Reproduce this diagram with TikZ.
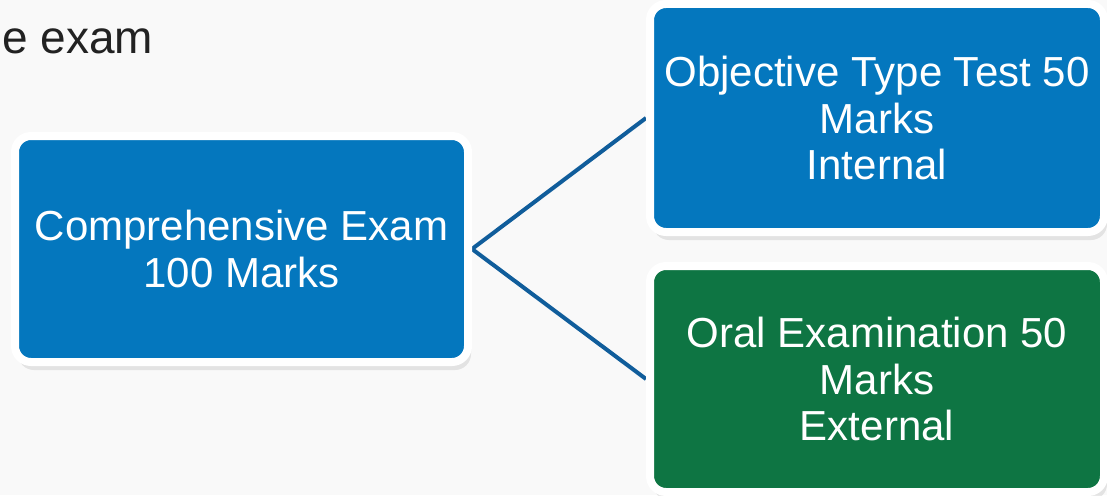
\documentclass[tikz,border=0pt]{standalone}
\usepackage{fontspec}
\setmainfont{Liberation Sans}
\usetikzlibrary{shadows,backgrounds}
\definecolor{bgc}{HTML}{F9F9F9}
\definecolor{boxblue}{HTML}{0477BE}
\definecolor{boxgreen}{HTML}{0E7543}
\definecolor{linec}{HTML}{105D9B}
\definecolor{txtc}{HTML}{222222}
\tikzset{
  card/.style={draw=white, line width=8pt, rounded corners=16pt, text=white,
    align=center, inner sep=0pt, font=\fontsize{42}{46.5}\selectfont,
    drop shadow={opacity=0.18, shadow xshift=3pt, shadow yshift=-8pt}},
  conn/.style={draw=linec, line width=4pt}
}
\begin{document}
\begin{tikzpicture}[x=1pt,y=-1pt]
\useasboundingbox (0,0) rectangle (1107,495);
\node[card, fill=boxblue, minimum width=453pt, minimum height=226pt] (comp) at (241.5,249) {Comprehensive Exam\\100 Marks};
\node[card, fill=boxblue, minimum width=454pt, minimum height=228pt] (obj) at (877,118) {Objective Type Test 50\\Marks\\Internal};
\node[card, fill=boxgreen, minimum width=454pt, minimum height=226pt] (oral) at (877,379) {Oral Examination 50\\Marks\\External};
\node[anchor=base west, text=txtc, inner sep=0pt, font=\fontsize{46}{50}\selectfont] (title) at (2,53) {e exam};
\begin{scope}[on background layer]
\fill[bgc] (0,0) rectangle (1107,495);
\draw[conn] (comp.east) -- (obj.west);
\draw[conn] (comp.east) -- (oral.west);
\end{scope}
\end{tikzpicture}
\end{document}
